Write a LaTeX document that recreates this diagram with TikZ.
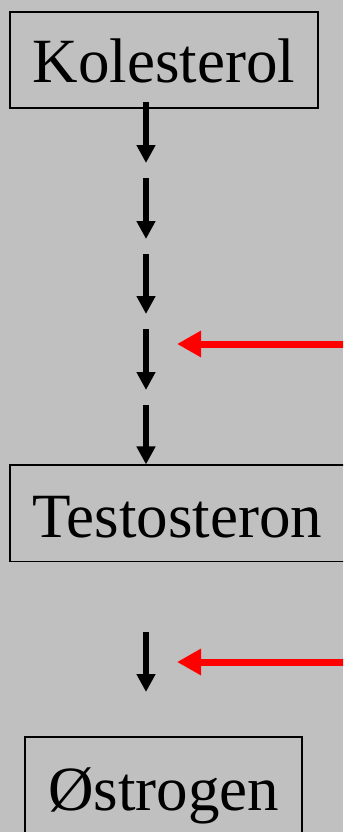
\documentclass[tikz,border=0pt]{standalone}
\usepackage{fontspec}
\setmainfont{Liberation Serif}
\usetikzlibrary{arrows.meta}
\definecolor{bg}{HTML}{C0C0C0}
\definecolor{redarrow}{HTML}{FF0000}
\tikzset{
  box/.style={draw=black, line width=1.1pt, inner sep=0pt, font=\fontsize{63}{70}\selectfont, text depth=0pt},
  blackarrow/.style={draw=black, line width=5.2pt, -{Triangle[length=18pt,width=18pt]}},
  redarr/.style={draw=redarrow, line width=7pt, -{Triangle[length=24pt,width=25pt]}}
}
\begin{document}
\begin{tikzpicture}[x=1pt,y=-1pt]
\useasboundingbox (0,0) rectangle (343,832);
\fill[bg] (0,0) rectangle (343,832);
\clip (0,0) rectangle (343,832);
\node[box, minimum width=308pt, minimum height=96pt, text height=45.4pt] (K) at (164,60) {Kolesterol};
\node[box, minimum width=335pt, minimum height=96.5pt, text height=47.5pt] (T) at (177.5,513.25) {Testosteron};
\node[box, minimum width=277pt, minimum height=98pt, text height=48pt] (O) at (163.5,786) {Østrogen};
% black chain coordinates
\coordinate (s1) at (146,102);  \coordinate (e1) at (146,163);
\coordinate (s2) at (146,178);  \coordinate (e2) at (146,239);
\coordinate (s3) at (146,254);  \coordinate (e3) at (146,314);
\coordinate (s4) at (146,329);  \coordinate (e4) at (146,390);
\coordinate (s5) at (146,405);
\coordinate (s6) at (146,632);  \coordinate (e6) at (146,692);
\draw[blackarrow] (s1) -- (e1);
\draw[blackarrow] (s2) -- (e2);
\draw[blackarrow] (s3) -- (e3);
\draw[blackarrow] (s4) -- (e4);
\draw[blackarrow] (s5) -- (s5 |- T.north);
\draw[blackarrow] (s6) -- (e6);
% red arrows
\coordinate (r1s) at (350,344); \coordinate (r1e) at (177,344);
\coordinate (r2s) at (350,662); \coordinate (r2e) at (177,662);
\draw[redarr] (r1s) -- (r1e);
\draw[redarr] (r2s) -- (r2e);
\end{tikzpicture}
\end{document}
